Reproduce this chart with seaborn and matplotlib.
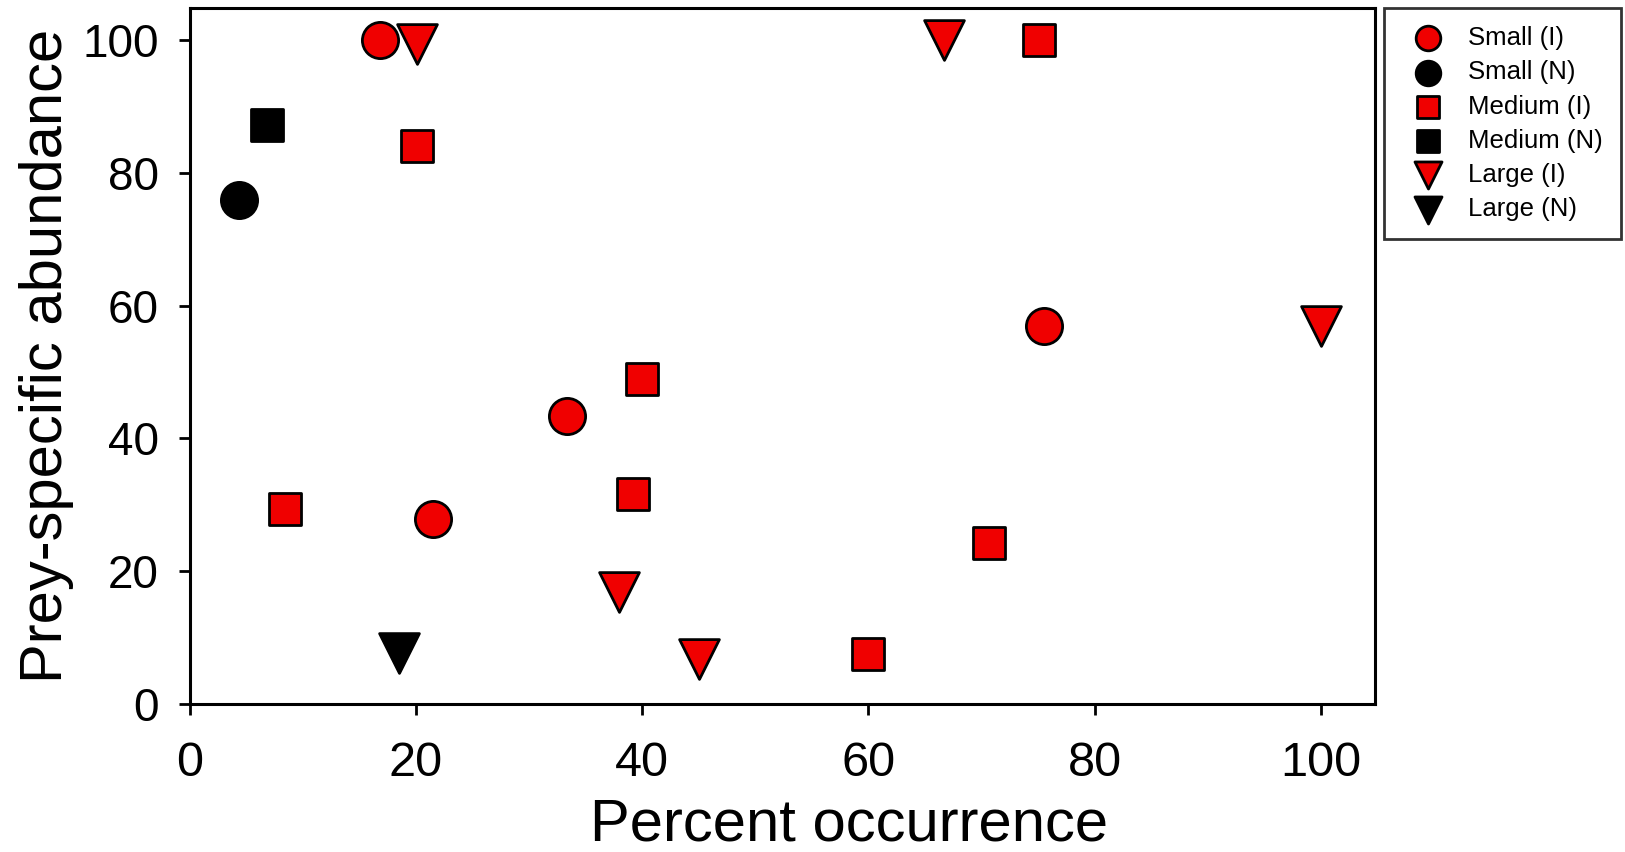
import pandas as pd
import matplotlib
matplotlib.use('Agg')
import matplotlib.pyplot as plt
import seaborn as sns

# Values
small_i_x = [16.8, 75.5, 33.4, 21.5]
small_i_y = [100, 56.9, 43.4, 27.8]
small_n_x = [4.4]
small_n_y = [75.9]
medium_i_x = [75.1, 20.1, 40.0, 39.2, 8.4, 70.7, 60.0]
medium_i_y = [100, 84.1, 48.9, 31.6, 29.4, 24.2, 7.5]
medium_n_x = [6.8]
medium_n_y = [87.3]
large_i_x = [20.1, 66.7, 100, 38.0, 45.0]
large_i_y = [99.5, 100, 57.0, 16.9, 6.7]
large_n_x = [18.5]
large_n_y = [7.7]

x_ticks = [0, 20, 40, 60, 80, 100]
y_ticks = [0, 20, 40, 60, 80, 100]

sns.set_style('ticks')
plt.rcParams['font.family'] = ['Liberation Sans', 'DejaVu Sans']
plt.rcParams['text.color'] = 'black'
plt.rcParams['axes.labelcolor'] = 'black'
plt.rcParams['xtick.color'] = 'black'
plt.rcParams['ytick.color'] = 'black'

fig = plt.figure(figsize=(16.25, 8.52), dpi=100)
ax = fig.add_axes([0.1167, 0.1742, 0.7295, 0.8164])

groups = [
    ('Small (I)', small_i_x, small_i_y, 'o', '#f00000', 680),
    ('Small (N)', small_n_x, small_n_y, 'o', 'black', 680),
    ('Medium (I)', medium_i_x, medium_i_y, 's', '#f00000', 530),
    ('Medium (N)', medium_n_x, medium_n_y, 's', 'black', 530),
    ('Large (I)', large_i_x, large_i_y, 'v', '#f00000', 820),
    ('Large (N)', large_n_x, large_n_y, 'v', 'black', 820),
]

for label, xs, ys, marker, color, size in groups:
    df = pd.DataFrame({'x': xs, 'y': ys})
    sns.scatterplot(data=df, x='x', y='y', ax=ax, marker=marker, color=color,
                    s=size, edgecolor='black', linewidth=2, label=label,
                    zorder=3, clip_on=False)

ax.set_xlim(0, 104.8)
ax.set_ylim(0, 104.9)
ax.set_xticks(x_ticks)
ax.set_yticks(y_ticks)
ax.tick_params(axis='both', direction='out', length=8, width=2)
ax.tick_params(axis='x', pad=19, labelsize=35)
ax.tick_params(axis='y', pad=14, labelsize=33)
for sp in ax.spines.values():
    sp.set_linewidth(2.2)
    sp.set_color('black')

ax.set_xlabel('Percent occurrence', fontsize=43)
ax.xaxis.set_label_coords(0.556, -0.135)
ax.set_ylabel('Prey-specific abundance', fontsize=43, labelpad=6)

ax.legend().remove()
handles, labels = ax.get_legend_handles_labels()
leg = fig.legend(handles, labels, loc='upper left', bbox_to_anchor=(1384 / 1625, 1 - 8 / 852),
                 fontsize=18.5, frameon=True, fancybox=False, markerscale=0.68,
                 handletextpad=0.56, labelspacing=0.4, borderpad=0.7, borderaxespad=0)
leg.get_frame().set_edgecolor('black')
leg.get_frame().set_linewidth(2)

fig.savefig('out.png', dpi=100)
